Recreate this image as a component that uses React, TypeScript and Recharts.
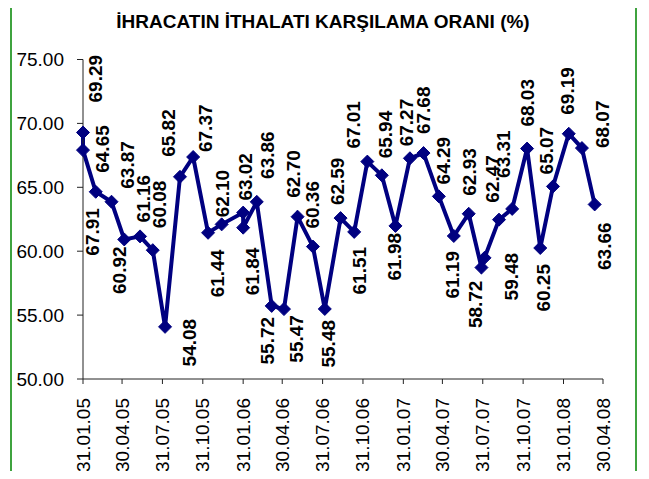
import { LineChart, Line, XAxis, YAxis } from "recharts";

// ratio of exports to imports (%), in the order the points are drawn
const ratio = [
  69.29, 67.91, 64.65, 63.87, 60.92, 61.16, 60.08, 54.08, 65.82, 67.37,
  61.44, 62.1, 63.02, 61.84, 63.86, 55.72, 55.47, 62.7, 60.36, 55.48,
  62.59, 61.51, 67.01, 65.94, 61.98, 67.27, 67.68, 64.29, 61.19, 62.93,
  58.72, 59.48, 62.47, 63.31, 68.03, 60.25, 65.07, 69.19, 68.07, 63.66,
];

// date of each point, as days after 31.01.05
const pointDays = [
  0, 0, 29, 65, 94, 130, 159, 187, 221, 251,
  285, 316, 365, 365, 396, 430, 458, 489, 524, 551,
  587, 618, 648, 681, 712, 745, 776, 811, 845, 879,
  908, 915, 948, 978, 1012, 1042, 1071, 1107, 1137, 1166,
];

const tickLabels = [
  "31.01.05", "30.04.05", "31.07.05", "31.10.05", "31.01.06", "30.04.06", "31.07.06",
  "31.10.06", "31.01.07", "30.04.07", "31.07.07", "31.10.07", "31.01.08", "30.04.08",
];
const tickDays = [0, 89, 181, 273, 365, 454, 546, 638, 730, 819, 911, 1003, 1095, 1185];

const yTicks = [50, 55, 60, 65, 70, 75];

// where each value label sits: above/below the point, x nudge, gap
const labelPlacement: [string, number, number][] = [
  ["u", 13, 30], ["d", 10, 58], ["u", 7, 19], ["u", 16, 13], ["d", -5, 7],
  ["u", 3, 14], ["u", 7, 22], ["d", 24, -8], ["u", -11, 20], ["u", 12, 5],
  ["d", 9, 17], ["u", 1, 7], ["u", 2, 12], ["d", 9, 20], ["u", 11, 23],
  ["d", -4, 11], ["d", 13, 6], ["u", -4, 19], ["u", 0, 18], ["d", 4, 11],
  ["u", -3, 13], ["d", 5, 15], ["u", -14, 13], ["u", 4, 17], ["d", -1, 7],
  ["u", -3, 12], ["u", 0, 19], ["u", 5, 12], ["d", -1, 15], ["u", 1, 18],
  ["d", -6, 13], ["d", 27, -5], ["u", -6, 17], ["u", -9, 31], ["u", 0, 22],
  ["d", 3, 16], ["u", -6, 12], ["u", -1, 19], ["u", 21, 0], ["d", 10, 18],
];

const data = ratio.map((v, i) => ({ d: pointDays[i], v }));

const FONT = "'Liberation Sans', Arial, sans-serif";
const NAVY = "#000080";

const XTick = (props: any) => {
  const { x, y, payload } = props;
  const i = tickDays.indexOf(payload.value);
  return (
    <text
      x={x}
      y={y}
      transform={`rotate(-90 ${x} ${y})`}
      textAnchor="end"
      dominantBaseline="central"
      fontFamily={FONT}
      fontSize={19}
      fill="#000"
    >
      {tickLabels[i]}
    </text>
  );
};

const YTick = (props: any) => {
  const { x, y, payload } = props;
  return (
    <text x={x} y={y} textAnchor="end" dominantBaseline="central" fontFamily={FONT} fontSize={19} fill="#000">
      {Number(payload.value).toFixed(2)}
    </text>
  );
};

const Diamond = (props: any) => {
  const { cx, cy, index } = props;
  const r = 6.5;
  return (
    <path
      key={`dm-${index}`}
      d={`M${cx},${cy - r} L${cx + r},${cy} L${cx},${cy + r} L${cx - r},${cy} Z`}
      fill={NAVY}
      stroke={NAVY}
    />
  );
};

const ValueLabel = (props: any) => {
  const { cx, cy, index, payload } = props;
  const [side, dx, gap] = labelPlacement[index];
  const lx = cx + dx;
  const ly = side === "u" ? cy - gap : cy + gap;
  return (
    <text
      key={`lb-${index}`}
      x={lx}
      y={ly}
      transform={`rotate(-90 ${lx} ${ly})`}
      textAnchor={side === "u" ? "start" : "end"}
      dominantBaseline="central"
      fontFamily={FONT}
      fontWeight="bold"
      fontSize={19}
      fill="#000"
    >
      {payload.v.toFixed(2)}
    </text>
  );
};

export default function App() {
  return (
    <div style={{ position: "relative", width: 649, height: 479, margin: -8, overflow: "hidden", background: "#fff" }}>
      <LineChart width={649} height={479} data={data} margin={{ top: 59.5, right: 46, left: 0, bottom: 0 }}>
        <XAxis
          type="number"
          dataKey="d"
          domain={[0, 1185]}
          ticks={tickDays}
          interval={0}
          tick={<XTick />}
          tickSize={5}
          tickMargin={14}
          height={100}
          stroke="#222"
        />
        <YAxis
          type="number"
          domain={[50, 75]}
          ticks={yTicks}
          interval={0}
          tick={<YTick />}
          tickSize={6}
          tickMargin={13}
          width={83}
          stroke="#222"
        />
        <Line
          type="linear"
          dataKey="v"
          stroke={NAVY}
          strokeWidth={4}
          dot={(p: any) => <Diamond {...p} />}
          activeDot={false}
          isAnimationActive={false}
        />
        <Line
          type="linear"
          dataKey="v"
          stroke="none"
          dot={(p: any) => <ValueLabel {...p} />}
          activeDot={false}
          legendType="none"
          isAnimationActive={false}
        />
      </LineChart>
      <svg width={649} height={479} style={{ position: "absolute", left: 0, top: 0, pointerEvents: "none" }}>
        <path d="M11,479 V2 H636 V479" fill="none" stroke="#3fa33f" strokeWidth={2} />
        <text x={323} y={28} textAnchor="middle" fontFamily={FONT} fontWeight="bold" fontSize={19} fill="#000">
          İHRACATIN İTHALATI KARŞILAMA ORANI (%)
        </text>
      </svg>
    </div>
  );
}
